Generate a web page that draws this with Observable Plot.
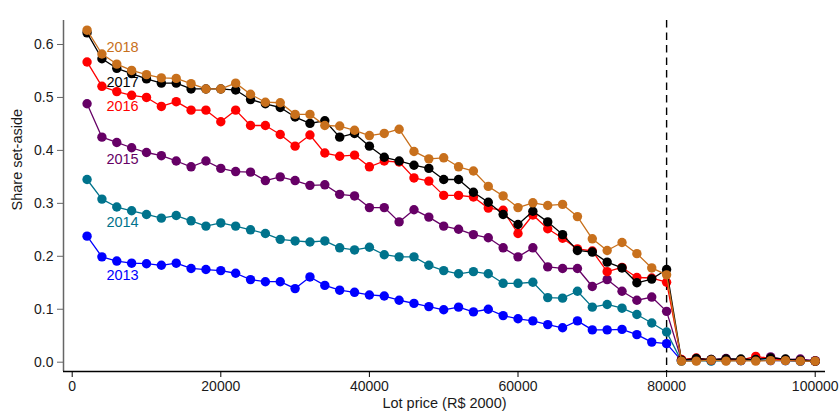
<!DOCTYPE html>
<html>
<head>
<meta charset="utf-8">
<script src="https://cdn.jsdelivr.net/npm/d3@7"></script>
<script src="https://cdn.jsdelivr.net/npm/@observablehq/plot@0.6"></script>
<style>
  html, body { margin: 0; padding: 0; background: #fff; }
  #chart svg { display: block; }
</style>
</head>
<body>
<div id="chart"></div>
<script>
// Lot price bins (R$ 2000)
const lotPrice = [
  2000, 4000, 6000, 8000, 10000, 12000, 14000, 16000, 18000, 20000,
  22000, 24000, 26000, 28000, 30000, 32000, 34000, 36000, 38000, 40000,
  42000, 44000, 46000, 48000, 50000, 52000, 54000, 56000, 58000, 60000,
  62000, 64000, 66000, 68000, 70000, 72000, 74000, 76000, 78000, 80000,
  82000, 84000, 86000, 88000, 90000, 92000, 94000, 96000, 98000, 100000
];

const years = ["2013", "2014", "2015", "2016", "2017", "2018"];

// Share of lots set aside, one array per year
const share2013 = [
  0.238, 0.199, 0.191, 0.187, 0.186, 0.183, 0.187, 0.177, 0.175, 0.173,
  0.168, 0.156, 0.152, 0.152, 0.139, 0.161, 0.145, 0.136, 0.132, 0.127,
  0.125, 0.117, 0.111, 0.105, 0.099, 0.104, 0.095, 0.100, 0.088, 0.082,
  0.078, 0.071, 0.065, 0.078, 0.061, 0.061, 0.062, 0.052, 0.038, 0.035,
  0.003, 0.004, 0.003, 0.004, 0.003, 0.004, 0.003, 0.003, 0.002, 0.002
];
const share2014 = [
  0.345, 0.308, 0.293, 0.286, 0.279, 0.272, 0.277, 0.267, 0.257, 0.263,
  0.257, 0.250, 0.243, 0.232, 0.229, 0.227, 0.229, 0.216, 0.212, 0.217,
  0.203, 0.199, 0.199, 0.183, 0.173, 0.167, 0.171, 0.167, 0.149, 0.149,
  0.151, 0.122, 0.121, 0.134, 0.104, 0.109, 0.102, 0.090, 0.074, 0.057,
  0.002, 0.003, 0.002, 0.003, 0.003, 0.004, 0.004, 0.003, 0.002, 0.002
];
const share2015 = [
  0.488, 0.425, 0.415, 0.405, 0.396, 0.390, 0.380, 0.369, 0.380, 0.366,
  0.360, 0.359, 0.343, 0.350, 0.343, 0.334, 0.335, 0.317, 0.314, 0.292,
  0.292, 0.265, 0.288, 0.274, 0.257, 0.251, 0.241, 0.235, 0.216, 0.199,
  0.216, 0.180, 0.177, 0.177, 0.143, 0.156, 0.134, 0.117, 0.123, 0.096,
  0.004, 0.006, 0.005, 0.007, 0.004, 0.006, 0.010, 0.005, 0.006, 0.003
];
const share2016 = [
  0.567, 0.521, 0.511, 0.504, 0.500, 0.483, 0.492, 0.476, 0.476, 0.454,
  0.476, 0.447, 0.447, 0.430, 0.408, 0.429, 0.395, 0.389, 0.391, 0.369,
  0.380, 0.378, 0.348, 0.342, 0.315, 0.315, 0.312, 0.291, 0.287, 0.243,
  0.278, 0.252, 0.234, 0.214, 0.210, 0.171, 0.179, 0.160, 0.159, 0.151,
  0.005, 0.008, 0.004, 0.005, 0.004, 0.011, 0.007, 0.004, 0.003, 0.002
];
const share2017 = [
  0.622, 0.573, 0.555, 0.545, 0.535, 0.527, 0.527, 0.516, 0.516, 0.516,
  0.514, 0.496, 0.488, 0.481, 0.463, 0.451, 0.456, 0.425, 0.432, 0.408,
  0.387, 0.380, 0.372, 0.366, 0.345, 0.345, 0.321, 0.302, 0.279, 0.260,
  0.285, 0.265, 0.241, 0.211, 0.208, 0.189, 0.178, 0.150, 0.157, 0.175,
  0.004, 0.007, 0.005, 0.006, 0.006, 0.005, 0.008, 0.006, 0.004, 0.002
];
const share2018 = [
  0.627, 0.582, 0.563, 0.551, 0.543, 0.537, 0.536, 0.526, 0.516, 0.516,
  0.527, 0.506, 0.491, 0.490, 0.468, 0.468, 0.447, 0.446, 0.438, 0.428,
  0.432, 0.440, 0.398, 0.384, 0.386, 0.369, 0.361, 0.332, 0.314, 0.292,
  0.301, 0.296, 0.298, 0.275, 0.233, 0.211, 0.226, 0.205, 0.178, 0.165,
  0.002, 0.002, 0.004, 0.002, 0.003, 0.002, 0.003, 0.003, 0.002, 0.002
];

// Where each year's name sits (share units), next to the start of its line
const labelShare = [0.164, 0.264, 0.384, 0.483, 0.529, 0.594];

const yTicks = [0, 0.1, 0.2, 0.3, 0.4, 0.5, 0.6];
const xTicks = [0, 20000, 40000, 60000, 80000, 100000];
const cutoff = [80000];

// Series colours
const palette = ["#0000ff", "#00738c", "#660066", "#ff0000", "#000000", "#c8701c"];

const shares = [share2013, share2014, share2015, share2016, share2017, share2018];
const rows = years.map((year, k) =>
  lotPrice.map((price, i) => ({year, price, share: shares[k][i]}))
);
const labels = years.map((year, k) => ({year, share: labelShare[k]}));

// Frame extends a little past the data on each side, like the axes offset
const xDomain = [-1171, 101386];
const yDomain = [-0.01756, 0.6453];

const seriesMarks = rows.flatMap((data) => [
  Plot.line(data, {x: "price", y: "share", stroke: "year", strokeWidth: 1.3}),
  Plot.dot(data, {x: "price", y: "share", fill: "year", r: 4.7})
]);

const chart = Plot.plot({
  width: 840,
  height: 414,
  marginLeft: 63,
  marginRight: 15,
  marginTop: 20,
  marginBottom: 43,
  style: {
    fontFamily: "'Liberation Sans', Arial, Helvetica, sans-serif",
    fontSize: "14px",
    background: "#fff",
    color: "#1a1a1a"
  },
  x: {domain: xDomain},
  y: {domain: yDomain},
  color: {domain: years, range: palette},
  marks: [
    // cutoff at R$ 80000
    Plot.ruleX(cutoff, {stroke: "#000", strokeWidth: 1.4, strokeDasharray: "7.5,5"}),
    // axes
    Plot.axisY({
      ticks: yTicks, tickFormat: d3.format(".1f"), tickSize: 6, tickPadding: 4,
      label: null, stroke: "#666", fill: "#1a1a1a", fontSize: 14
    }),
    Plot.axisX({
      ticks: xTicks, tickFormat: d3.format("d"), tickSize: 6, tickPadding: 4,
      label: null, stroke: "#000", fill: "#1a1a1a", fontSize: 14
    }),
    Plot.ruleX([xDomain[0]], {stroke: "#666", strokeWidth: 1.5}),
    Plot.ruleY([yDomain[0]], {stroke: "#000", strokeWidth: 1.3}),
    // series
    ...seriesMarks,
    Plot.text(labels, {
      x: 4600, y: "share", text: "year", fill: "year",
      textAnchor: "start", lineAnchor: "middle", fontSize: 14.5
    }),
    // axis titles
    Plot.text(["Lot price (R$ 2000)"], {
      frameAnchor: "bottom", dy: 31.7, lineAnchor: "middle",
      fontSize: 14.5, fill: "#1a1a1a"
    }),
    Plot.text(["Share set-aside"], {
      frameAnchor: "left", rotate: -90, dx: -46.3, dy: 14.5,
      lineAnchor: "middle", fontSize: 14.5, fill: "#1a1a1a"
    })
  ]
});

document.getElementById("chart").append(chart);
</script>
</body>
</html>
